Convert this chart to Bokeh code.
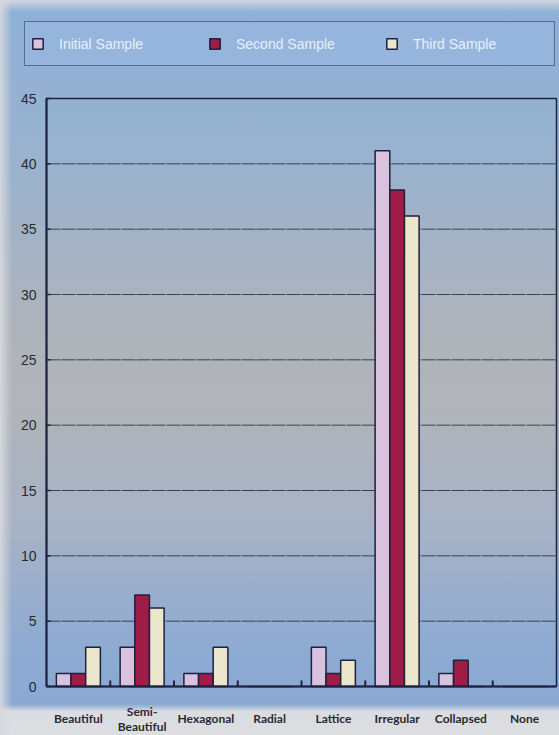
import numpy as np
from bokeh.plotting import figure
from bokeh.models import Range1d, Legend, LegendItem, ColumnDataSource
from bokeh.core.properties import value
from bokeh.embed import file_html
from bokeh.resources import INLINE

# ---- data ----
categories = ["Beautiful", "Semi-\nBeautiful", "Hexagonal", "Radial", "Lattice", "Irregular", "Collapsed", "None"]
series_names = ["Initial Sample", "Second Sample", "Third Sample"]
series1 = [1, 3, 1, 0, 3, 41, 1, 0]
series2 = [1, 7, 1, 0, 1, 38, 2, 0]
series3 = [3, 6, 3, 0, 2, 36, 0, 0]
y_ticks = [0, 5, 10, 15, 20, 25, 30, 35, 40, 45]

colors = ["#d8c2de", "#9e1c45", "#ece7cc"]
outline = "#1c2240"
ink = "#2a2a30"

n = len(categories)
idx = np.arange(n)
y_max = y_ticks[-1]

# ---- layout (pixels) : the frame fills the whole figure ----
W, H = 559, 735
px_left, px_right = 46, 556      # plot box edges
px_top, px_zero = 98, 686        # y=45 and y=0
cat_px = (px_right - px_left) / n
k = (px_zero - px_top) / y_max
x0 = -0.5 - px_left / cat_px
x1 = n - 0.5 + (W - px_right) / cat_px
y0 = -(H - px_zero) / k
y1 = y_max + px_top / k

p = figure(width=W, height=H, output_backend="svg", toolbar_location=None,
           x_range=Range1d(x0, x1), y_range=Range1d(y0, y1),
           min_border=0)
p.title = None
p.xaxis.visible = False
p.yaxis.visible = False
p.xgrid.visible = False
p.ygrid.visible = False
p.outline_line_color = None
p.background_fill_alpha = 0
p.border_fill_alpha = 0
p.styles = {"background": (
    "linear-gradient(to right, rgba(214,217,221,0.95) 0px, rgba(214,217,221,0) 12px), "
    "linear-gradient(to bottom, rgba(214,217,221,0.95) 0px, rgba(214,217,221,0) 12px), "
    "linear-gradient(to bottom, #8eb0d8 0%, #98b2d0 20%, #aeb3bb 45%, #b1b4b9 55%, "
    "#a6b2c6 72%, #8eabd2 88%, #8aa8d2 95.8%, #d9dce0 96.8%, #dcdee2 100%)")}

xl, xr = -0.5, n - 0.5

# grid lines
grid_y = y_ticks[1:-1]
p.multi_line(xs=[[xl, xr]] * len(grid_y), ys=[[g, g] for g in grid_y],
             line_color="#262c40", line_width=1, line_alpha=0.85, line_dash="14 1")

# bars
bar_w = 0.23
offsets = [-bar_w, 0.0, bar_w]
renderers = []
for vals, off, col in zip([series1, series2, series3], offsets, colors):
    src = ColumnDataSource(dict(x=idx + off, top=vals))
    r = p.vbar(x="x", top="top", width=bar_w, bottom=0, source=src,
               fill_color=col, line_color=outline, line_width=1.5)
    renderers.append(r)

# plot box
p.quad(left=[xl], right=[xr], bottom=[0], top=[y_max], fill_color=None,
       line_color=outline, line_width=1.5)
p.segment(x0=[xl], y0=[0], x1=[xl], y1=[y_max], line_color=outline, line_width=2)
p.segment(x0=[xl], y0=[0], x1=[xr], y1=[0], line_color=outline, line_width=2)

# y tick marks and labels
p.segment(x0=[xl] * len(y_ticks), y0=y_ticks, x1=[xl + 4 / cat_px] * len(y_ticks), y1=y_ticks,
          line_color=outline, line_width=1.5)
p.text(x=[xl] * len(y_ticks), y=y_ticks, text=[str(t) for t in y_ticks],
       x_offset=-10, text_align="right", text_baseline="middle",
       text_font=value("Liberation Sans"), text_font_size="14px", text_color=ink)

# category boundary ticks
bnd = list(idx[:-1] + 0.5)
p.segment(x0=bnd, y0=[0] * len(bnd), x1=bnd, y1=[6 / k] * len(bnd),
          line_color=outline, line_width=2)

# category labels
p.text(x=idx, y=[0] * n, text=categories, y_offset=32,
       text_align="center", text_baseline="middle", text_line_height=1.0,
       text_font=value("Lato"), text_font_style="bold", text_font_size="12px",
       text_color=ink)

legend = Legend(items=[LegendItem(label=s, renderers=[r]) for s, r in zip(series_names, renderers)],
                orientation="horizontal", location=(24, H - 66),
                glyph_width=13, glyph_height=13, label_standoff=15, label_width=135,
                label_height=31, spacing=14, padding=6, margin=0,
                background_fill_color="#96b5dc", background_fill_alpha=1,
                border_line_color=outline, border_line_width=1.5,
                label_text_color="#e8eff8", label_text_font="Liberation Sans",
                label_text_font_size="14px")
p.add_layout(legend, "center")

open("out.html", "w").write(file_html(p, INLINE))
